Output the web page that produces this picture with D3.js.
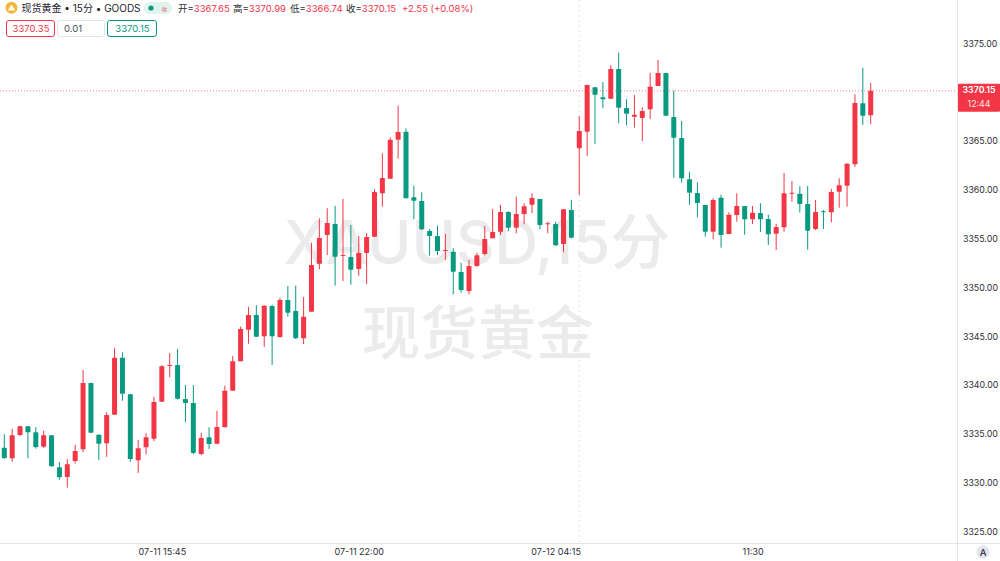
<!DOCTYPE html>
<html><head><meta charset="utf-8">
<script src="https://cdnjs.cloudflare.com/ajax/libs/d3/7.8.5/d3.min.js"></script>
<style>html,body{margin:0;padding:0;background:#fff;overflow:hidden}svg{display:block}text{font-family:Inter,"Noto Sans CJK SC",sans-serif}</style>
</head><body><svg id="c" width="1000" height="561"></svg>
<script>
const opens=[3333.59,3332.50,3334.89,3335.78,3335.17,3333.69,3334.86,3331.58,3330.59,3332.22,3333.42,3340.22,3334.92,3334.04,3336.97,3342.81,3339.06,3332.30,3333.63,3334.51,3338.30,3341.96,3342.06,3338.58,3338.17,3332.94,3334.65,3334.00,3335.68,3339.43,3342.44,3345.68,3347.18,3345.00,3348.11,3344.93,3348.72,3347.59,3344.80,3347.52,3352.44,3355.38,3356.51,3353.23,3353.13,3351.90,3353.54,3355.21,3359.65,3361.15,3365.15,3365.95,3359.24,3358.87,3355.79,3355.28,3353.74,3353.67,3351.59,3349.64,3352.21,3353.43,3355.04,3355.72,3357.74,3356.13,3357.53,3358.49,3359.07,3356.48,3356.51,3354.46,3357.94,3364.27,3365.97,3370.51,3369.49,3369.35,3372.39,3368.39,3367.50,3367.37,3368.26,3370.65,3371.98,3367.47,3365.32,3361.09,3359.69,3358.46,3355.72,3359.20,3355.48,3357.43,3358.35,3356.99,3357.64,3357.02,3355.51,3356.17,3359.65,3359.61,3358.56,3356.00,3357.81,3357.71,3359.82,3360.43,3362.62,3368.88,3367.65];
const highs=[3334.96,3335.50,3335.84,3335.81,3335.68,3335.33,3334.89,3332.12,3332.40,3333.87,3341.55,3340.25,3334.96,3337.22,3343.80,3343.36,3339.09,3334.38,3335.06,3338.81,3342.06,3343.29,3343.70,3340.01,3340.01,3335.12,3335.68,3337.38,3339.94,3342.98,3345.99,3348.03,3348.18,3348.18,3348.24,3348.96,3350.16,3350.19,3349.03,3354.59,3357.09,3358.12,3358.38,3359.07,3356.41,3355.28,3355.59,3360.06,3363.75,3365.39,3368.63,3366.31,3360.43,3359.76,3356.00,3356.33,3355.48,3354.02,3352.54,3352.82,3353.57,3356.30,3358.05,3358.46,3357.81,3359.31,3358.63,3359.65,3359.10,3356.74,3356.74,3358.05,3358.97,3367.57,3370.78,3370.55,3371.06,3372.77,3374.06,3369.29,3369.73,3368.47,3371.98,3373.31,3372.01,3370.17,3367.06,3361.87,3360.78,3358.46,3359.14,3359.51,3357.71,3359.65,3358.35,3358.35,3358.63,3357.46,3356.54,3361.73,3360.91,3360.40,3360.40,3358.97,3357.94,3360.10,3361.19,3362.73,3369.80,3372.52,3370.99];
const lows=[3332.43,3332.15,3334.79,3332.50,3333.49,3333.56,3331.64,3330.31,3329.49,3331.95,3333.15,3335.09,3332.33,3332.64,3336.97,3338.40,3332.15,3331.00,3332.91,3334.24,3338.27,3340.80,3338.51,3336.19,3332.91,3332.81,3333.45,3333.94,3335.68,3339.43,3342.44,3344.24,3344.93,3343.91,3342.06,3344.86,3347.01,3344.73,3344.21,3347.52,3351.87,3353.33,3350.19,3350.67,3350.29,3351.21,3350.36,3355.21,3358.28,3361.15,3363.20,3359.14,3356.99,3355.89,3353.26,3353.33,3352.82,3349.31,3349.47,3349.31,3352.13,3353.30,3355.04,3355.38,3355.79,3355.56,3356.48,3357.60,3355.97,3355.56,3354.26,3353.61,3355.04,3359.48,3363.48,3364.71,3368.36,3369.35,3366.83,3366.62,3366.38,3365.01,3367.27,3370.65,3367.61,3361.25,3360.74,3358.49,3357.20,3355.21,3354.94,3354.08,3355.48,3356.74,3355.41,3356.51,3355.69,3354.36,3353.84,3355.72,3358.79,3357.67,3353.88,3355.89,3356.00,3356.68,3358.18,3358.28,3362.35,3366.65,3366.74];
const closes=[3332.53,3334.86,3335.78,3335.17,3333.66,3334.86,3331.68,3330.55,3331.89,3333.25,3340.22,3335.13,3334.00,3336.94,3342.81,3339.12,3332.43,3333.53,3334.65,3338.27,3341.93,3342.06,3338.61,3338.17,3333.05,3334.58,3333.97,3335.71,3339.43,3342.44,3345.75,3347.18,3344.96,3348.14,3345.00,3348.72,3347.42,3344.80,3347.01,3352.31,3355.07,3356.61,3353.16,3353.33,3351.83,3353.54,3355.18,3359.79,3361.22,3365.15,3365.94,3359.14,3358.90,3355.97,3355.28,3353.74,3353.84,3351.62,3349.75,3352.21,3353.30,3354.97,3355.69,3357.74,3356.13,3357.53,3358.32,3359.17,3356.41,3356.58,3354.33,3358.01,3355.10,3366.04,3370.75,3369.76,3369.29,3372.39,3368.42,3367.81,3367.71,3368.09,3370.58,3371.98,3367.61,3365.35,3361.19,3359.72,3358.66,3355.72,3358.97,3355.38,3357.46,3358.35,3356.99,3357.67,3356.99,3355.45,3356.20,3359.65,3359.72,3358.56,3355.82,3357.74,3357.74,3359.79,3360.47,3362.69,3368.91,3367.61,3370.15];
const priceTicks=[3325,3330,3335,3340,3345,3350,3355,3360,3365,3375];
const timeTickIndex=[20,45,70,95];
const timeTickLabels=["07-11 15:45","07-11 22:00","07-12 04:15","11:30"];
const dayBreakIndex=73;
const lastPrice=3370.15, countdown="12:44";
const watermark=["XAUUSD,15分","现货黄金"];
const titleText="现货黄金 • 15分 • GOODS";
const ohlc=[["开=","3367.65"],["高=","3370.99"],["低=","3366.74"],["收=","3370.15"]];
const changeText="+2.55 (+0.08%)";
const tradeBoxes=["3370.35","0.01","3370.15"];

const UP="#f23645",DOWN="#089981",AX="#e0e3eb";
const svg=d3.select("#c");
const idx=d3.range(opens.length);
const x=d3.scaleLinear().domain([0,idx.length-1]).range([4.3,870.7]);
const y=d3.scaleLinear().domain([3325,3375]).range([531.5,43.5]);

// watermark
const wm=svg.append("g").attr("fill","#ebebed").attr("font-weight",500).attr("text-anchor","middle");
wm.append("text").attr("x",477).attr("y",264).attr("font-size",60).text(watermark[0]);
wm.append("text").attr("x",478).attr("y",354).attr("font-size",58).text(watermark[1]);

// session break
svg.append("line").attr("x1",x(dayBreakIndex)).attr("x2",x(dayBreakIndex)).attr("y1",0).attr("y2",543)
  .attr("stroke","#e3e4ea").attr("stroke-width",1).attr("stroke-dasharray","2 3");

// candles
const g=svg.append("g").selectAll("g").data(idx).join("g").attr("fill",d=>closes[d]>=opens[d]?UP:DOWN).attr("stroke",d=>closes[d]>=opens[d]?UP:DOWN);
g.append("line").attr("x1",d=>x(d)).attr("x2",d=>x(d)).attr("y1",d=>y(highs[d])).attr("y2",d=>y(lows[d])).attr("stroke-width",1);
g.append("rect").attr("stroke","none").attr("rx",0.6)
 .attr("x",d=>x(d)-2.5).attr("width",5)
 .attr("y",d=>y(Math.max(opens[d],closes[d])))
 .attr("height",d=>Math.max(1,Math.abs(y(opens[d])-y(closes[d]))));

// last price line
svg.append("line").attr("x1",0).attr("x2",958).attr("y1",y(lastPrice)).attr("y2",y(lastPrice))
  .attr("stroke",UP).attr("stroke-width",1).attr("stroke-dasharray","1 2").attr("opacity",.6);

// axes
const yA=svg.append("g").attr("transform","translate(957.5,0)").call(d3.axisRight(y).tickValues(priceTicks).tickFormat(d3.format(".2f")).tickSize(0).tickPadding(5.5));
yA.select(".domain").attr("stroke",AX).attr("d","M0,0V561");
yA.selectAll("text").attr("font-size",8.8).attr("fill","#2e2e33");
const xA=svg.append("g").attr("transform","translate(0,543.5)").call(d3.axisBottom(x).tickValues(timeTickIndex).tickFormat((d,i)=>timeTickLabels[i]).tickSize(0).tickPadding(5));
xA.select(".domain").attr("stroke",AX).attr("d","M0,0H1000");
xA.selectAll("text").attr("font-size",9).attr("fill","#2e2e33");

// price tag
svg.append("rect").attr("x",958).attr("y",y(lastPrice)-7).attr("width",42).attr("height",28).attr("fill",UP).attr("rx",1);
svg.append("text").attr("x",979).attr("y",y(lastPrice)+2.5).attr("text-anchor","middle").attr("font-size",8.8).attr("font-weight",600).attr("fill","#fff").text(d3.format(".2f")(lastPrice));
svg.append("text").attr("x",979).attr("y",y(lastPrice)+16.5).attr("text-anchor","middle").attr("font-size",8.8).attr("fill","#fff").attr("opacity",.9).text(countdown);

// auto badge
svg.append("circle").attr("cx",983).attr("cy",552).attr("r",6.5).attr("fill","#e3e4ee");
svg.append("text").attr("x",983).attr("y",555.5).attr("text-anchor","middle").attr("font-size",9.5).attr("font-weight",500).attr("fill","#2a2e39").text("A");

// header
svg.append("circle").attr("cx",11.5).attr("cy",7.7).attr("r",6).attr("fill","#f0b73a");
svg.append("path").attr("d","M7.5,10.5 L11.5,4.5 L15.5,10.5 Z").attr("fill","#fff").attr("opacity",.9);
svg.append("text").attr("x",21.5).attr("y",12).attr("font-size",10).attr("fill","#1f2230").text(titleText);
svg.append("rect").attr("x",144).attr("y",2).attr("width",28).attr("height",12).attr("rx",6).attr("fill","#dff3ef");
svg.append("circle").attr("cx",151).attr("cy",8).attr("r",2.6).attr("fill",DOWN);
svg.append("text").attr("x",164.5).attr("y",11.5).attr("text-anchor","middle").attr("font-size",9).attr("fill","#e8707c").text("≈");
const ohlcX=[178,233,290,346];
ohlc.forEach((p,i)=>{
  const t=svg.append("text").attr("x",ohlcX[i]).attr("y",12).attr("font-size",9.5);
  t.append("tspan").attr("fill","#2e2e33").text(p[0]);
  t.append("tspan").attr("fill",UP).text(p[1]);
});
svg.append("text").attr("x",402).attr("y",12).attr("font-size",9.5).attr("fill",UP).text(changeText);
const boxX=[7,58,108],boxW=[48,47,49],boxC=[UP,"#e0e3eb",DOWN],boxT=[UP,"#4a4d57",DOWN],boxA=["middle","start","middle"];
tradeBoxes.forEach((s,i)=>{
  svg.append("rect").attr("x",boxX[i]-.5).attr("y",20.5).attr("width",boxW[i]).attr("height",16).attr("rx",2.5).attr("fill","#fff").attr("stroke",boxC[i]);
  svg.append("text").attr("x",i==1?boxX[i]+6:boxX[i]+boxW[i]/2).attr("y",32).attr("text-anchor",boxA[i]).attr("font-size",9.5).attr("fill",boxT[i]).text(s);
});
</script></body></html>
